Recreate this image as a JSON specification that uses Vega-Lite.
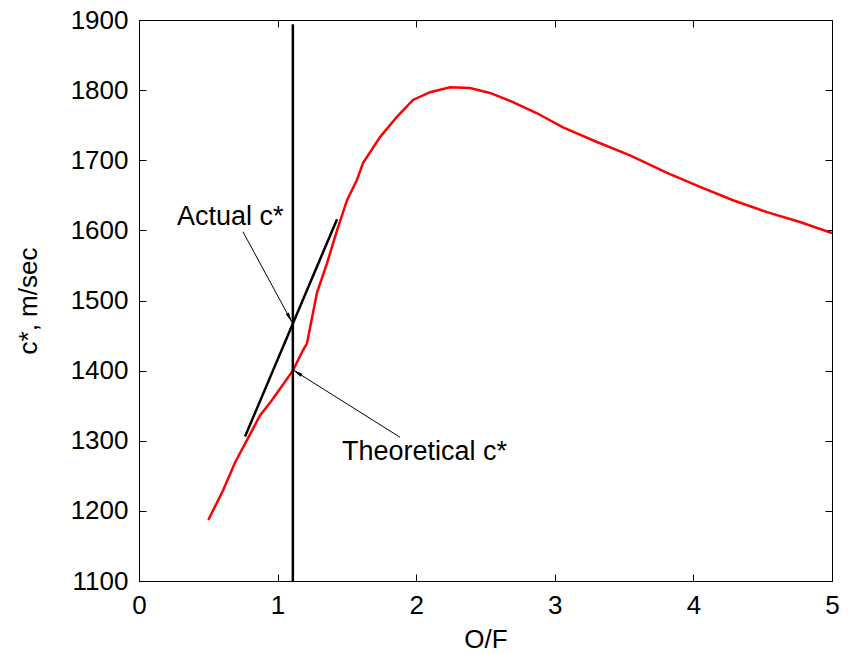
{
  "$schema": "https://vega.github.io/schema/vega-lite/v6.json",
  "width": 693,
  "height": 561,
  "autosize": {"type": "none"},
  "padding": {"left": 139, "top": 20, "right": 16, "bottom": 73},
  "background": "white",
  "config": {
    "view": {"stroke": "black", "strokeWidth": 1},
    "axis": {
      "grid": false,
      "domainColor": "black",
      "tickColor": "black",
      "labelColor": "black",
      "titleColor": "black",
      "labelFont": "Liberation Sans",
      "titleFont": "Liberation Sans",
      "labelFontSize": 26,
      "titleFontSize": 26,
      "titleFontWeight": "normal",
      "labelPadding": 11,
      "labelFlush": false,
      "format": "d"
    }
  },
  "datasets": {
    "curve": [
      {"of": 0.50, "cstar": 1187},
      {"of": 0.606, "cstar": 1229},
      {"of": 0.693, "cstar": 1269},
      {"of": 0.779, "cstar": 1301},
      {"of": 0.873, "cstar": 1336},
      {"of": 0.96, "cstar": 1358},
      {"of": 1.11, "cstar": 1400},
      {"of": 1.183, "cstar": 1429},
      {"of": 1.212, "cstar": 1439},
      {"of": 1.284, "cstar": 1511},
      {"of": 1.356, "cstar": 1553},
      {"of": 1.429, "cstar": 1600},
      {"of": 1.501, "cstar": 1643},
      {"of": 1.573, "cstar": 1672},
      {"of": 1.616, "cstar": 1696},
      {"of": 1.739, "cstar": 1733},
      {"of": 1.861, "cstar": 1762},
      {"of": 1.977, "cstar": 1786},
      {"of": 2.100, "cstar": 1797},
      {"of": 2.244, "cstar": 1804},
      {"of": 2.388, "cstar": 1803},
      {"of": 2.532, "cstar": 1796},
      {"of": 2.698, "cstar": 1783},
      {"of": 2.872, "cstar": 1767},
      {"of": 3.059, "cstar": 1747},
      {"of": 3.304, "cstar": 1726},
      {"of": 3.543, "cstar": 1707},
      {"of": 3.810, "cstar": 1682},
      {"of": 4.048, "cstar": 1662},
      {"of": 4.286, "cstar": 1643},
      {"of": 4.531, "cstar": 1626},
      {"of": 4.769, "cstar": 1612},
      {"of": 5.0, "cstar": 1596}
    ],
    "lines": [
      {"name": "vertical", "x1": 1.11, "y1": 1100, "x2": 1.11, "y2": 1894},
      {"name": "actual", "x1": 0.765, "y1": 1306, "x2": 1.429, "y2": 1616}
    ],
    "arrows": [
      {"name": "Actual c*", "x1": 0.75, "y1": 1598, "x2": 1.104, "y2": 1469},
      {"name": "Theoretical c*", "x1": 1.883, "y1": 1305, "x2": 1.111, "y2": 1401}
    ],
    "labels": [
      {"label": "Actual c*", "x": 0.274, "y": 1608},
      {"label": "Theoretical c*", "x": 1.465, "y": 1272}
    ]
  },
  "layer": [
    {
      "data": {"name": "curve"},
      "mark": {"type": "line", "color": "#ff0000", "strokeWidth": 2.5, "clip": true},
      "encoding": {
        "x": {
          "field": "of", "type": "quantitative",
          "scale": {"domain": [0, 5], "nice": false, "zero": false},
          "axis": {"orient": "bottom", "values": [0, 1, 2, 3, 4, 5], "ticks": false, "title": "O/F", "titlePadding": 8}
        },
        "y": {
          "field": "cstar", "type": "quantitative",
          "scale": {"domain": [1100, 1900], "nice": false, "zero": false},
          "axis": {"orient": "left", "values": [1100, 1200, 1300, 1400, 1500, 1600, 1700, 1800, 1900], "ticks": false, "title": "c*, m/sec", "titlePadding": 29}
        }
      }
    },
    {
      "data": {"name": "lines"},
      "mark": {"type": "rule", "color": "black", "strokeWidth": 2.5},
      "encoding": {
        "x": {"field": "x1", "type": "quantitative", "axis": {"orient": "top", "offset": -7, "values": [0, 1, 2, 3, 4, 5], "labels": false, "title": null, "domain": false, "ticks": true, "tickSize": 7, "tickColor": "black", "tickWidth": 1}},
        "y": {"field": "y1", "type": "quantitative", "axis": {"orient": "right", "offset": -7, "values": [1100, 1200, 1300, 1400, 1500, 1600, 1700, 1800, 1900], "labels": false, "title": null, "domain": false, "ticks": true, "tickSize": 7, "tickColor": "black", "tickWidth": 1}},
        "x2": {"field": "x2"},
        "y2": {"field": "y2"}
      }
    },
    {
      "data": {"name": "arrows"},
      "mark": {"type": "rule", "color": "black", "strokeWidth": 1},
      "encoding": {
        "x": {"field": "x1", "type": "quantitative", "axis": {"orient": "bottom", "offset": -7, "values": [0, 1, 2, 3, 4, 5], "labels": false, "title": null, "domain": false, "ticks": true, "tickSize": 7, "tickColor": "black", "tickWidth": 1}},
        "y": {"field": "y1", "type": "quantitative", "axis": {"orient": "left", "offset": -7, "values": [1100, 1200, 1300, 1400, 1500, 1600, 1700, 1800, 1900], "labels": false, "title": null, "domain": false, "ticks": true, "tickSize": 7, "tickColor": "black", "tickWidth": 1}},
        "x2": {"field": "x2"},
        "y2": {"field": "y2"}
      }
    },
    {
      "data": {"name": "arrows"},
      "transform": [{"filter": "datum.name == 'Actual c*'"}],
      "mark": {"type": "point", "shape": "M0,0L-0.35,2L0.35,2Z", "filled": true, "color": "black", "opacity": 1, "size": 100, "angle": 151.4},
      "encoding": {
        "x": {"field": "x2", "type": "quantitative", "axis": null},
        "y": {"field": "y2", "type": "quantitative", "axis": null}
      }
    },
    {
      "data": {"name": "arrows"},
      "transform": [{"filter": "datum.name == 'Theoretical c*'"}],
      "mark": {"type": "point", "shape": "M0,0L-0.35,2L0.35,2Z", "filled": true, "color": "black", "opacity": 1, "size": 100, "angle": 302},
      "encoding": {
        "x": {"field": "x2", "type": "quantitative", "axis": null},
        "y": {"field": "y2", "type": "quantitative", "axis": null}
      }
    },
    {
      "data": {"name": "labels"},
      "mark": {"type": "text", "align": "left", "baseline": "alphabetic", "font": "Liberation Sans", "fontSize": 27, "color": "black"},
      "encoding": {
        "x": {"field": "x", "type": "quantitative", "axis": null},
        "y": {"field": "y", "type": "quantitative", "axis": null},
        "text": {"field": "label"}
      }
    }
  ],
  "resolve": {"axis": {"x": "independent", "y": "independent"}}
}
